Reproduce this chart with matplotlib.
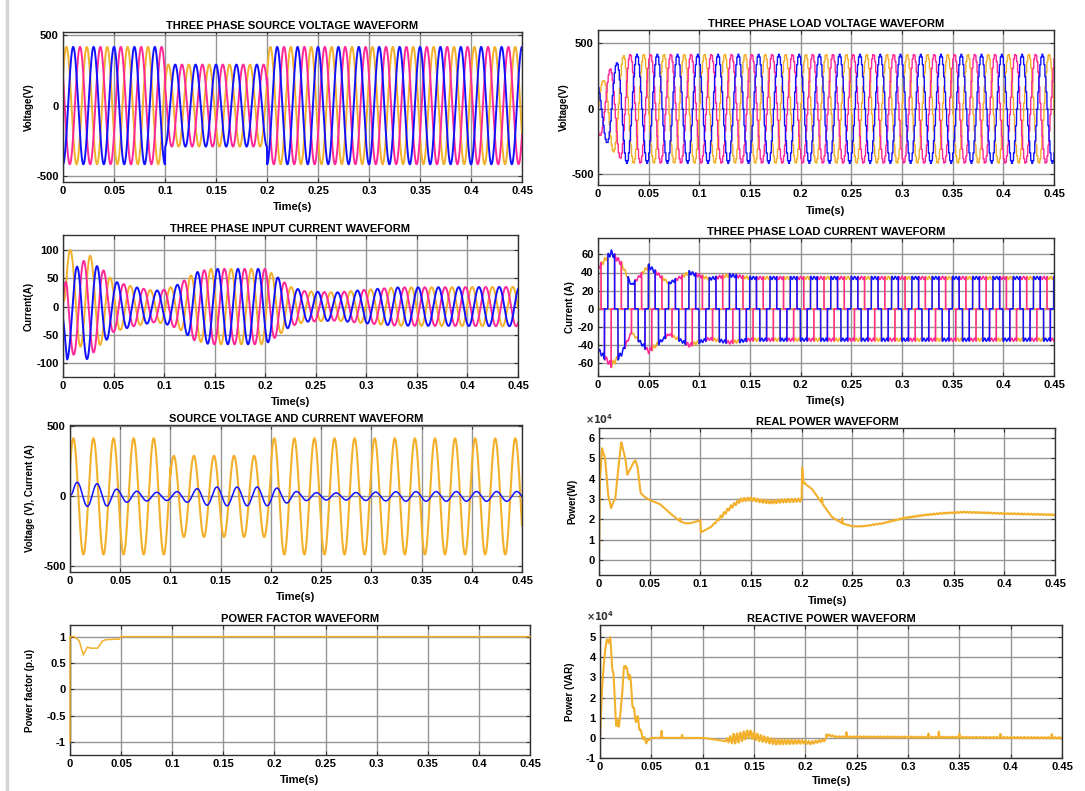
import numpy as np
import matplotlib
matplotlib.use('Agg')
import matplotlib.pyplot as plt
from matplotlib.ticker import FixedLocator, FixedFormatter

plt.rcParams['font.family'] = ['Liberation Sans', 'DejaVu Sans']
plt.rcParams['font.weight'] = 'bold'
plt.rcParams['axes.unicode_minus'] = False

# colours of the three phases
YEL = '#F2B02C'
PNK = '#FF2898'
BLU = '#1212FF'

FREQ = 50.0
T_END = 0.45

time_ticks = [0, 0.05, 0.1, 0.15, 0.2, 0.25, 0.3, 0.35, 0.4, 0.45]
time_labels = ['0', '0.05', '0.1', '0.15', '0.2', '0.25', '0.3', '0.35', '0.4', '0.45']

# phase angles (deg) of yellow, pink, blue
phase_deg = {'yel': 120, 'pnk': -120, 'blu': 0}

# --- source voltage: peak envelope (V)
src_t = [0, 0.1, 0.1001, 0.2, 0.2001, 0.45]
src_amp = [415, 415, 290, 290, 415, 415]

# --- load voltage: peak envelope (V), stepped output
lv_t = [0, 0.005, 0.012, 0.018, 0.026, 0.45]
lv_amp = [200, 215, 310, 350, 415, 415]
lv_shift_deg = 36
lv_hold = 0.001

# --- input current: peak envelope (A), lag (s), start-up dc offsets (A)
ic_t = [0, 0.004, 0.025, 0.035, 0.05, 0.07, 0.09, 0.1, 0.115, 0.13, 0.145, 0.2, 0.21, 0.225, 0.24, 0.27, 0.3, 0.33, 0.45]
ic_amp = [20, 80, 85, 75, 45, 35, 28, 30, 40, 60, 67, 67, 55, 35, 27, 25, 30, 34, 35]
ic_lag_t = [0, 0.1, 0.2, 0.3, 0.45]
ic_lag = [0.004, 0.003, 0.003, 0.001, 0.0015]
dc_t = [0, 0.02, 0.045]
dc_yel = [25, 10, 0]
dc_pnk = [-5, -3, 0]
dc_blu = [-15, -10, 0]

# --- load current: quasi-square, peak envelope (A)
lc_t = [0, 0.013, 0.023, 0.033, 0.05, 0.07, 0.09, 0.11, 0.13, 0.15, 0.45]
lc_amp = [45, 62, 50, 26, 47, 28, 40, 33, 37, 34, 34]
lc_center = 0.013

# --- real power (W)
p_t = [0, 0.0008, 0.003, 0.006, 0.009, 0.012, 0.014, 0.016, 0.019, 0.022, 0.024, 0.026, 0.028,
       0.031, 0.034, 0.036, 0.038, 0.041, 0.045, 0.05, 0.06, 0.07, 0.08, 0.085, 0.09, 0.1,
       0.1005, 0.11, 0.12, 0.13, 0.14, 0.15, 0.16, 0.17, 0.18, 0.2, 0.2005, 0.202, 0.21,
       0.22, 0.23, 0.24, 0.25, 0.26, 0.28, 0.3, 0.32, 0.34, 0.36, 0.38, 0.4, 0.45]
p_w = [0, 38000, 55000, 50000, 32000, 25500, 28500, 30000, 45000, 58000, 54000, 50000, 42000,
       45000, 48000, 49000, 46000, 33000, 31000, 29500, 27500, 23000, 19000, 18000, 18000, 19500,
       13500, 16000, 21000, 26000, 29500, 30000, 29000, 28500, 29000, 29500, 45000, 38000, 35000,
       28000, 21000, 18000, 16500, 16500, 18000, 20500, 22000, 23000, 23500, 23200, 22800, 22200]
p_rip_t = [0, 0.11, 0.12, 0.2, 0.205, 0.3, 0.45]
p_rip = [0, 0, 800, 800, 0, 250, 250]
p_spk_t = [0.08, 0.22, 0.24]
p_spk = [1500, 2500, 2500]

# --- reactive power (VAR)
q_t = [0, 0.002, 0.005, 0.008, 0.01, 0.013, 0.015, 0.016, 0.018, 0.02, 0.022, 0.025, 0.027,
       0.029, 0.031, 0.034, 0.037, 0.04, 0.045, 0.05, 0.1, 0.12, 0.135, 0.145, 0.155, 0.17,
       0.2, 0.205, 0.22, 0.2205, 0.23, 0.45]
q_var = [0, 25000, 45000, 49000, 48000, 30000, 15000, 5000, 8000, 10000, 28000, 38000, 30000,
         32000, 20000, 10000, 9000, 2000, -2000, 0, 0, -1500, 0, 2000, 0, -2000,
         -2000, -2500, -1000, 1500, 500, 0]
q_rip_t = [0, 0.015, 0.04, 0.05, 0.12, 0.13, 0.16, 0.2, 0.22, 0.23, 0.45]
q_rip = [0, 3000, 1500, 0, 0, 2500, 1500, 800, 500, 300, 300]
q_spk_t = [0.06, 0.08, 0.24, 0.32, 0.33, 0.35, 0.39, 0.44]
q_spk = [3500, 1500, 2000, 1500, 2500, 1500, 1500, 1500]

# --- power factor
pf_t = [0, 0, 0.004, 0.009, 0.013, 0.017, 0.02, 0.027, 0.032, 0.035, 0.045, 0.048, 0.05, 0.45]
pf = [-1, 1, 1, 0.92, 0.65, 0.8, 0.78, 0.78, 0.92, 0.94, 0.95, 0.95, 1.0, 1.0]

t = np.linspace(0, T_END, 18001)
w = 2 * np.pi * FREQ


def spikes(tt, st, sv, width=0.0006):
    out = np.zeros_like(tt)
    for s, v in zip(st, sv):
        out += v * np.clip(1 - np.abs(tt - s) / width, 0, None)
    return out


fig = plt.figure(figsize=(10.85, 7.91), dpi=100)
fig.add_artist(plt.Line2D([7 / 1085, 7 / 1085], [0, 1], color='#d4d4d4', lw=2.5))


def axes_px(left, top, right, bottom):
    W, H = 1085, 791
    return fig.add_axes([left / W, 1 - bottom / H, (right - left) / W, (bottom - top) / H])


def setup(ax, title, ylabel, yticks, ylabels, ylim, ylpad=2, xlpad=4):
    ax.set_xlim(0, T_END)
    ax.set_ylim(*ylim)
    ax.xaxis.set_major_locator(FixedLocator(time_ticks))
    ax.xaxis.set_major_formatter(FixedFormatter(time_labels))
    ax.yaxis.set_major_locator(FixedLocator(yticks))
    if ylabels is not None:
        ax.yaxis.set_major_formatter(FixedFormatter(ylabels))
    ax.grid(True, color='#959595', lw=1.0)
    ax.set_axisbelow(True)
    ax.tick_params(direction='in', length=3, width=0.8, labelsize=8, pad=3,
                   top=True, right=True, color='#333333')
    for sp in ax.spines.values():
        sp.set_color('#333333')
        sp.set_linewidth(1.0)
    ax.set_title(title, fontsize=8, fontweight='bold', pad=2)
    ax.set_xlabel('Time(s)', fontsize=8, fontweight='bold', labelpad=xlpad)
    ax.set_ylabel(ylabel, fontsize=7, fontweight='bold', labelpad=ylpad)


# ---------------- three phase source voltage
ax1 = axes_px(63, 32, 522, 182)
env = np.interp(t, src_t, src_amp)
for key, col in [('yel', YEL), ('pnk', PNK), ('blu', BLU)]:
    ax1.plot(t, -env * np.cos(w * t + np.deg2rad(phase_deg[key])), color=col, lw=1.4)
setup(ax1, 'THREE PHASE SOURCE VOLTAGE WAVEFORM', 'Voltage(V)', [-500, 0, 500], None, (-540, 520))

# ---------------- three phase load voltage
ax2 = axes_px(598, 30, 1054, 185)
th = np.floor(t / lv_hold) * lv_hold
env = np.interp(th, lv_t, lv_amp)
for key, col in [('yel', YEL), ('pnk', PNK), ('blu', BLU)]:
    v = env * np.cos(w * th + np.deg2rad(lv_shift_deg) - np.deg2rad(phase_deg[key]))
    ax2.plot(t, v, color=col, lw=1.0)
setup(ax2, 'THREE PHASE LOAD VOLTAGE WAVEFORM', 'Voltage(V)', [-500, 0, 500], None, (-580, 600), xlpad=5)

# ---------------- three phase input current
ax3 = axes_px(63, 235, 518, 377)
env = np.interp(t, ic_t, ic_amp)
lag = np.interp(t, ic_lag_t, ic_lag)
dcs = {'yel': dc_yel, 'pnk': dc_pnk, 'blu': dc_blu}
icur = {}
for key in ['yel', 'pnk', 'blu']:
    icur[key] = -env * np.cos(w * (t - lag) + np.deg2rad(phase_deg[key])) + np.interp(t, dc_t, dcs[key])
for key, col in [('yel', YEL), ('pnk', PNK), ('blu', BLU)]:
    ax3.plot(t, icur[key], color=col, lw=1.4)
setup(ax3, 'THREE PHASE INPUT CURRENT WAVEFORM', 'Current(A)', [-100, -50, 0, 50, 100], None, (-125, 127))

# ---------------- three phase load current
ax4 = axes_px(598, 238, 1054, 376)
env = np.interp(t, lc_t, lc_amp)
for key, col in [('yel', YEL), ('pnk', PNK), ('blu', BLU)]:
    c = np.cos(w * (t - lc_center) + np.deg2rad(phase_deg[key]))
    sq = np.where(c > 0.5, 1.0, np.where(c < -0.5, -1.0, 0.0))
    ripple = 1 + 0.05 * np.cos(6 * w * t)
    ax4.plot(t, env * sq * ripple, color=col, lw=1.1)
setup(ax4, 'THREE PHASE LOAD CURRENT WAVEFORM', 'Current (A)', [-60, -40, -20, 0, 20, 40, 60], None, (-74, 78), xlpad=4)

# ---------------- source voltage and current
ax5 = axes_px(70, 425, 522, 572)
env = np.interp(t, src_t, src_amp)
ax5.plot(t, -env * np.cos(w * t + np.deg2rad(phase_deg['yel'])), color=YEL, lw=1.5)
ax5.plot(t, icur['yel'], color=BLU, lw=1.1)
setup(ax5, 'SOURCE VOLTAGE AND CURRENT WAVEFORM', 'Voltage (V), Current (A)', [-500, 0, 500], None, (-540, 510), ylpad=6)

# ---------------- real power
ax6 = axes_px(599, 428, 1055, 575)
pw = np.interp(t, p_t, p_w)
pw = pw + np.interp(t, p_rip_t, p_rip) * np.cos(6 * w * t) + spikes(t, p_spk_t, p_spk)
ax6.plot(t, pw, color=YEL, lw=1.5)
setup(ax6, 'REAL POWER WAVEFORM', 'Power(W)', [0, 10000, 20000, 30000, 40000, 50000, 60000],
      ['0', '1', '2', '3', '4', '5', '6'], (-7500, 65000), ylpad=8, xlpad=5)
ax6.text(-0.03, 1.015, r'$\times10^4$', transform=ax6.transAxes, fontsize=7, color='#333333', va='bottom')

# ---------------- power factor
ax7 = axes_px(70, 625, 530, 755)
ax7.plot(pf_t, pf, color=YEL, lw=1.1, zorder=5, clip_on=False)
setup(ax7, 'POWER FACTOR WAVEFORM', 'Power factor (p.u)', [-1, -0.5, 0, 0.5, 1],
      ['-1', '-0.5', '0', '0.5', '1'], (-1.25, 1.22), ylpad=8)

# ---------------- reactive power
ax8 = axes_px(600, 625, 1062, 758)
qv = np.interp(t, q_t, q_var)
qv = qv + np.interp(t, q_rip_t, q_rip) * np.cos(6 * w * t) + spikes(t, q_spk_t, q_spk)
ax8.plot(t, qv, color=YEL, lw=1.5)
setup(ax8, 'REACTIVE POWER WAVEFORM', 'Power (VAR)', [-10000, 0, 10000, 20000, 30000, 40000, 50000],
      ['-1', '0', '1', '2', '3', '4', '5'], (-10000, 56000), ylpad=8, xlpad=3)
ax8.text(-0.03, 1.015, r'$\times10^4$', transform=ax8.transAxes, fontsize=7, color='#333333', va='bottom')

fig.savefig('out.png', dpi=100)
